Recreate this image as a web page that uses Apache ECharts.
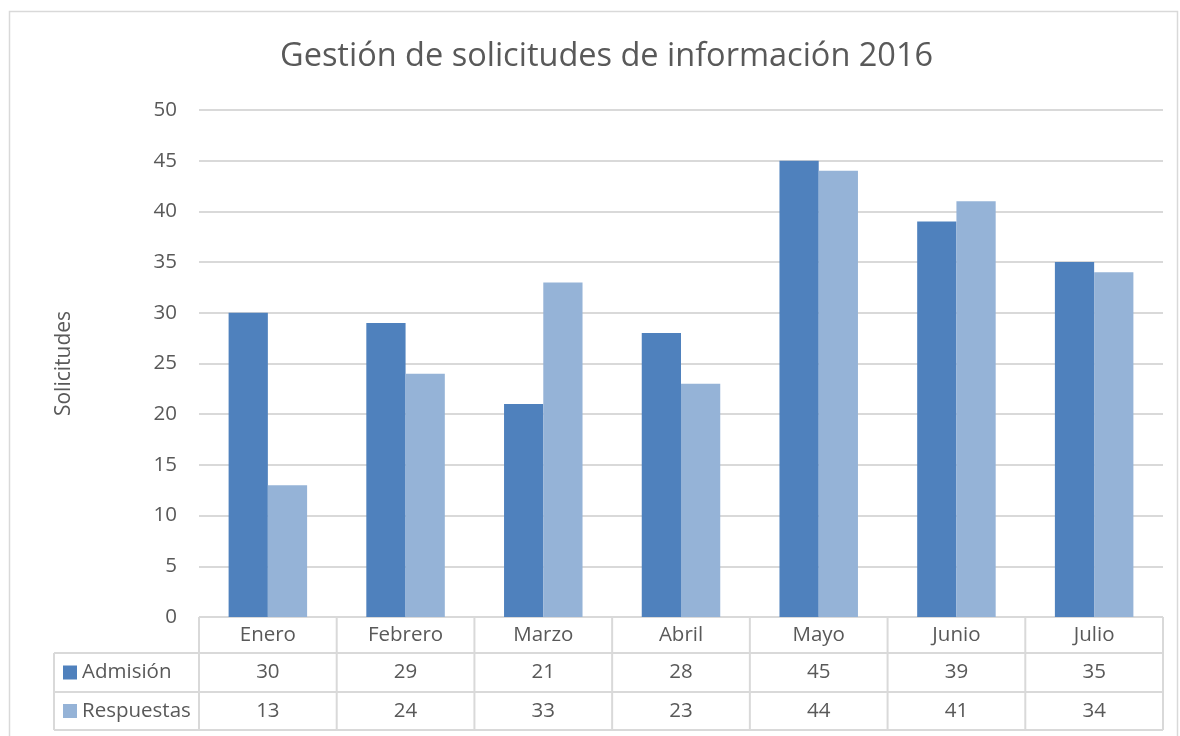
<!DOCTYPE html>
<html>
<head>
<meta charset="utf-8">
<script src="https://cdn.jsdelivr.net/npm/echarts@6/dist/echarts.min.js"></script>
<style>
  html, body { margin: 0; padding: 0; background: #fff; }
  #chart { width: 1180px; height: 736px; }
</style>
</head>
<body>
<div id="chart"></div>
<script>
const months = ['Enero', 'Febrero', 'Marzo', 'Abril', 'Mayo', 'Junio', 'Julio'];
const admision = [30, 29, 21, 28, 45, 39, 35];
const respuestas = [13, 24, 33, 23, 44, 41, 34];
const seriesNames = ['Admisión', 'Respuestas'];
const seriesColors = ['#4f81bd', '#95b3d7'];

const FONT = '"Open Sans", sans-serif';
const TXT = '#595959';
const LINE = '#d9d9d9';
const FS = 20.5;

// plot box
const plotLeft = 199, plotRight = 1163, plotTop = 110, plotBottom = 617;
const rowH = [36, 39, 38];
const tableLeft = 54;

const chart = echarts.init(document.getElementById('chart'));

function tableGraphics() {
  const g = [];
  const colW = (plotRight - plotLeft) / months.length;
  const y1 = plotBottom + rowH[0];
  const y2 = y1 + rowH[1];
  const y3 = y2 + rowH[2];
  const line = (x1, ya, x2, yb) => ({
    type: 'line', silent: true,
    shape: { x1: x1, y1: ya, x2: x2, y2: yb },
    style: { stroke: LINE, lineWidth: 2 }
  });
  // horizontal lines
  g.push(line(plotLeft, plotBottom, plotRight, plotBottom));
  g.push(line(tableLeft, y1, plotRight, y1));
  g.push(line(tableLeft, y2, plotRight, y2));
  g.push(line(tableLeft, y3, plotRight, y3));
  // vertical lines
  g.push(line(tableLeft, y1, tableLeft, y3));
  for (let i = 0; i <= months.length; i++) {
    const x = plotLeft + i * colW;
    g.push(line(x, plotBottom, x, y3));
  }
  // rows
  const rows = [admision, respuestas];
  rows.forEach((vals, r) => {
    const yTop = r === 0 ? y1 : y2;
    const yMid = yTop + rowH[r + 1] / 2;
    g.push({
      type: 'rect', silent: true,
      shape: { x: 63, y: yMid - 7, width: 14, height: 14 },
      style: { fill: seriesColors[r] }
    });
    g.push({
      type: 'text', silent: true,
      style: {
        x: 82, y: yMid, text: seriesNames[r],
        fill: TXT, font: FS + 'px ' + FONT, textVerticalAlign: 'middle'
      }
    });
    vals.forEach((v, i) => {
      g.push({
        type: 'text', silent: true,
        style: {
          x: plotLeft + (i + 0.5) * colW, y: yMid, text: String(v),
          fill: TXT, font: FS + 'px ' + FONT,
          textAlign: 'center', textVerticalAlign: 'middle'
        }
      });
    });
  });
  // outer frame
  g.push({
    type: 'rect', silent: true,
    shape: { x: 9.5, y: 11.5, width: 1168, height: 740 },
    style: { fill: 'none', stroke: LINE, lineWidth: 1.5 }
  });
  return g;
}

chart.setOption({
  animation: false,
  title: {
    text: 'Gestión de solicitudes de información 2016',
    left: 275,
    top: 35,
    textStyle: { color: TXT, fontFamily: FONT, fontWeight: 'normal', fontSize: 32.5 }
  },
  grid: { left: plotLeft, right: 1180 - plotRight, top: plotTop, bottom: 736 - plotBottom, containLabel: false },
  xAxis: {
    type: 'category',
    data: months,
    axisLine: { show: false },
    axisTick: { show: false },
    axisLabel: { color: TXT, fontFamily: FONT, fontSize: FS, margin: 8 }
  },
  yAxis: {
    type: 'value',
    min: 0, max: 50, interval: 5,
    name: 'Solicitudes',
    nameLocation: 'middle',
    nameGap: 124,
    nameTextStyle: { color: TXT, fontFamily: FONT, fontSize: 21 },
    axisLine: { show: false },
    axisTick: { show: false },
    axisLabel: { color: TXT, fontFamily: FONT, fontSize: FS, margin: 22 },
    splitLine: { lineStyle: { color: LINE, width: 2 } }
  },
  series: [
    {
      name: seriesNames[0], type: 'bar', data: admision,
      itemStyle: { color: seriesColors[0] },
      barGap: '0%', barCategoryGap: '43%'
    },
    {
      name: seriesNames[1], type: 'bar', data: respuestas,
      itemStyle: { color: seriesColors[1] },
      barGap: '0%', barCategoryGap: '43%'
    }
  ],
  graphic: tableGraphics()
});
</script>
</body>
</html>
